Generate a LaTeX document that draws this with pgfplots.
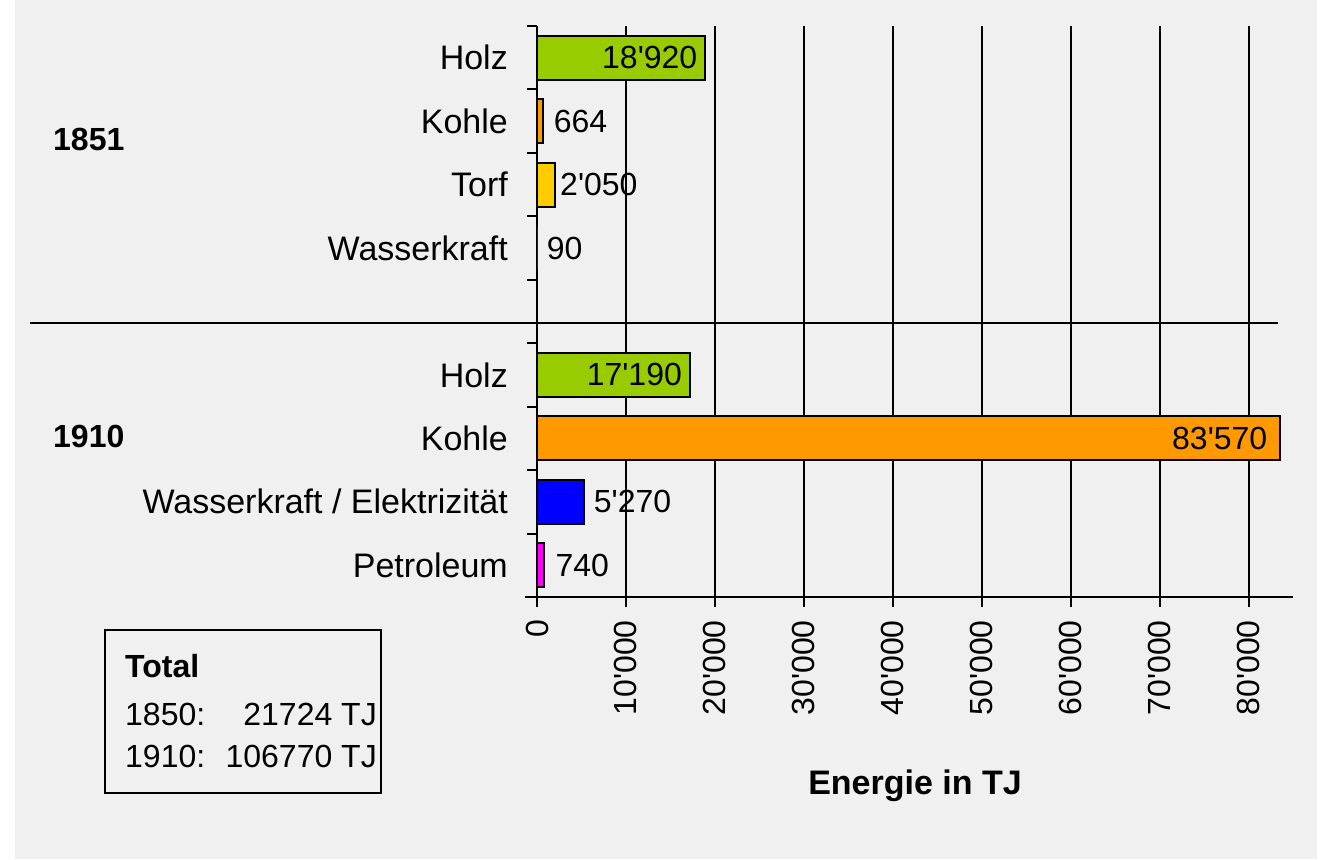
\documentclass[border=0pt]{standalone}
\usepackage{pgfplots}
\pgfplotsset{compat=1.18}
\usepackage{fontspec}
\setmainfont{Liberation Sans}
\definecolor{bg}{HTML}{F0F0F0}
\definecolor{holz}{HTML}{99CC00}
\definecolor{kohle}{HTML}{FF9900}
\definecolor{torf}{HTML}{FFCC00}
\definecolor{wasser}{HTML}{0000FF}
\definecolor{petrol}{HTML}{FF00FF}
\pgfplotsset{
  barstyle/.style={xbar, bar shift=0pt, bar width=44pt, draw=black, line width=2pt, point meta=x, nodes near coords},
  inlab/.style={every node near coord/.append style={anchor=east, inner sep=0pt, xshift=-#1, black}},
  outlab/.style={every node near coord/.append style={anchor=west, inner sep=0pt, xshift=#1, black}},
}
\begin{document}
\fontsize{32}{38}\selectfont
\begin{tikzpicture}[x=1pt,y=1pt]
\fill[white] (0,0) rectangle (1327,859);
\fill[bg] (15,0) rectangle (1317,859);
\begin{axis}[
  at={(537pt,262pt)}, anchor=south west,
  scale only axis, width=756pt, height=571pt,
  xmin=0, xmax=85000, ymin=0, ymax=9,
  enlargelimits=false, clip=false,
  axis x line*=bottom, axis y line*=left,
  axis line style={line width=2pt, -},
  xtick={0,10000,...,80000},
  scaled x ticks=false,
  /pgf/number format/1000 sep={\textquotesingle},
  /pgf/number format/assume math mode=true,
  xmajorgrids, major grid style={black, line width=2pt},
  tick align=outside, major tick length=10pt,
  tick style={black, line width=2pt},
  ytick={0,...,9},
  y tick label as interval,
  yticklabels={Petroleum, Wasserkraft / Elektrizität, Kohle, Holz, {}, Wasserkraft, Torf, Kohle, Holz},
  yticklabel style={inner sep=0pt, black, font=\fontsize{34}{40}\selectfont},
  yticklabel shift=19pt,
  xticklabel style={rotate=90, anchor=east, inner sep=0pt, black},
  xticklabel shift=13pt,
]
\addplot[barstyle, fill=holz, inlab=7pt] coordinates {(18920,8.5)};
\addplot[barstyle, fill=kohle, outlab=10pt] coordinates {(664,7.5)};
\addplot[barstyle, fill=torf, outlab=4pt] coordinates {(2050,6.5)};
\addplot[barstyle, fill=wasser, draw=none, outlab=8pt] coordinates {(90,5.5)};
\addplot[barstyle, fill=holz, inlab=7pt] coordinates {(17190,3.5)};
\addplot[barstyle, fill=kohle, inlab=12pt] coordinates {(83570,2.5)};
\addplot[barstyle, fill=wasser, outlab=9pt] coordinates {(5270,1.5)};
\addplot[barstyle, fill=petrol, outlab=11pt] coordinates {(740,0.5)};
\end{axis}
\draw[line width=2pt] (525,262) -- (537,262);
\draw[line width=2pt] (30,536) -- (1278,536);
\node[anchor=base west, inner sep=0pt, font=\bfseries] at (53,708) {1851};
\node[anchor=base west, inner sep=0pt, font=\bfseries] at (53,411) {1910};
\node[anchor=base, inner sep=0pt, font=\fontsize{34}{40}\selectfont\bfseries] at (915,64) {Energie in TJ};
\draw[line width=2pt] (105,66) rectangle (381,229);
\node[anchor=base west, inner sep=0pt, font=\bfseries] at (125,181) {Total};
\node[anchor=base west, inner sep=0pt] at (125,133) {1850:};
\node[anchor=base east, inner sep=0pt] at (377,133) {21724 TJ};
\node[anchor=base west, inner sep=0pt] at (125,91) {1910:};
\node[anchor=base east, inner sep=0pt] at (377,91) {106770 TJ};
\end{tikzpicture}
\end{document}
